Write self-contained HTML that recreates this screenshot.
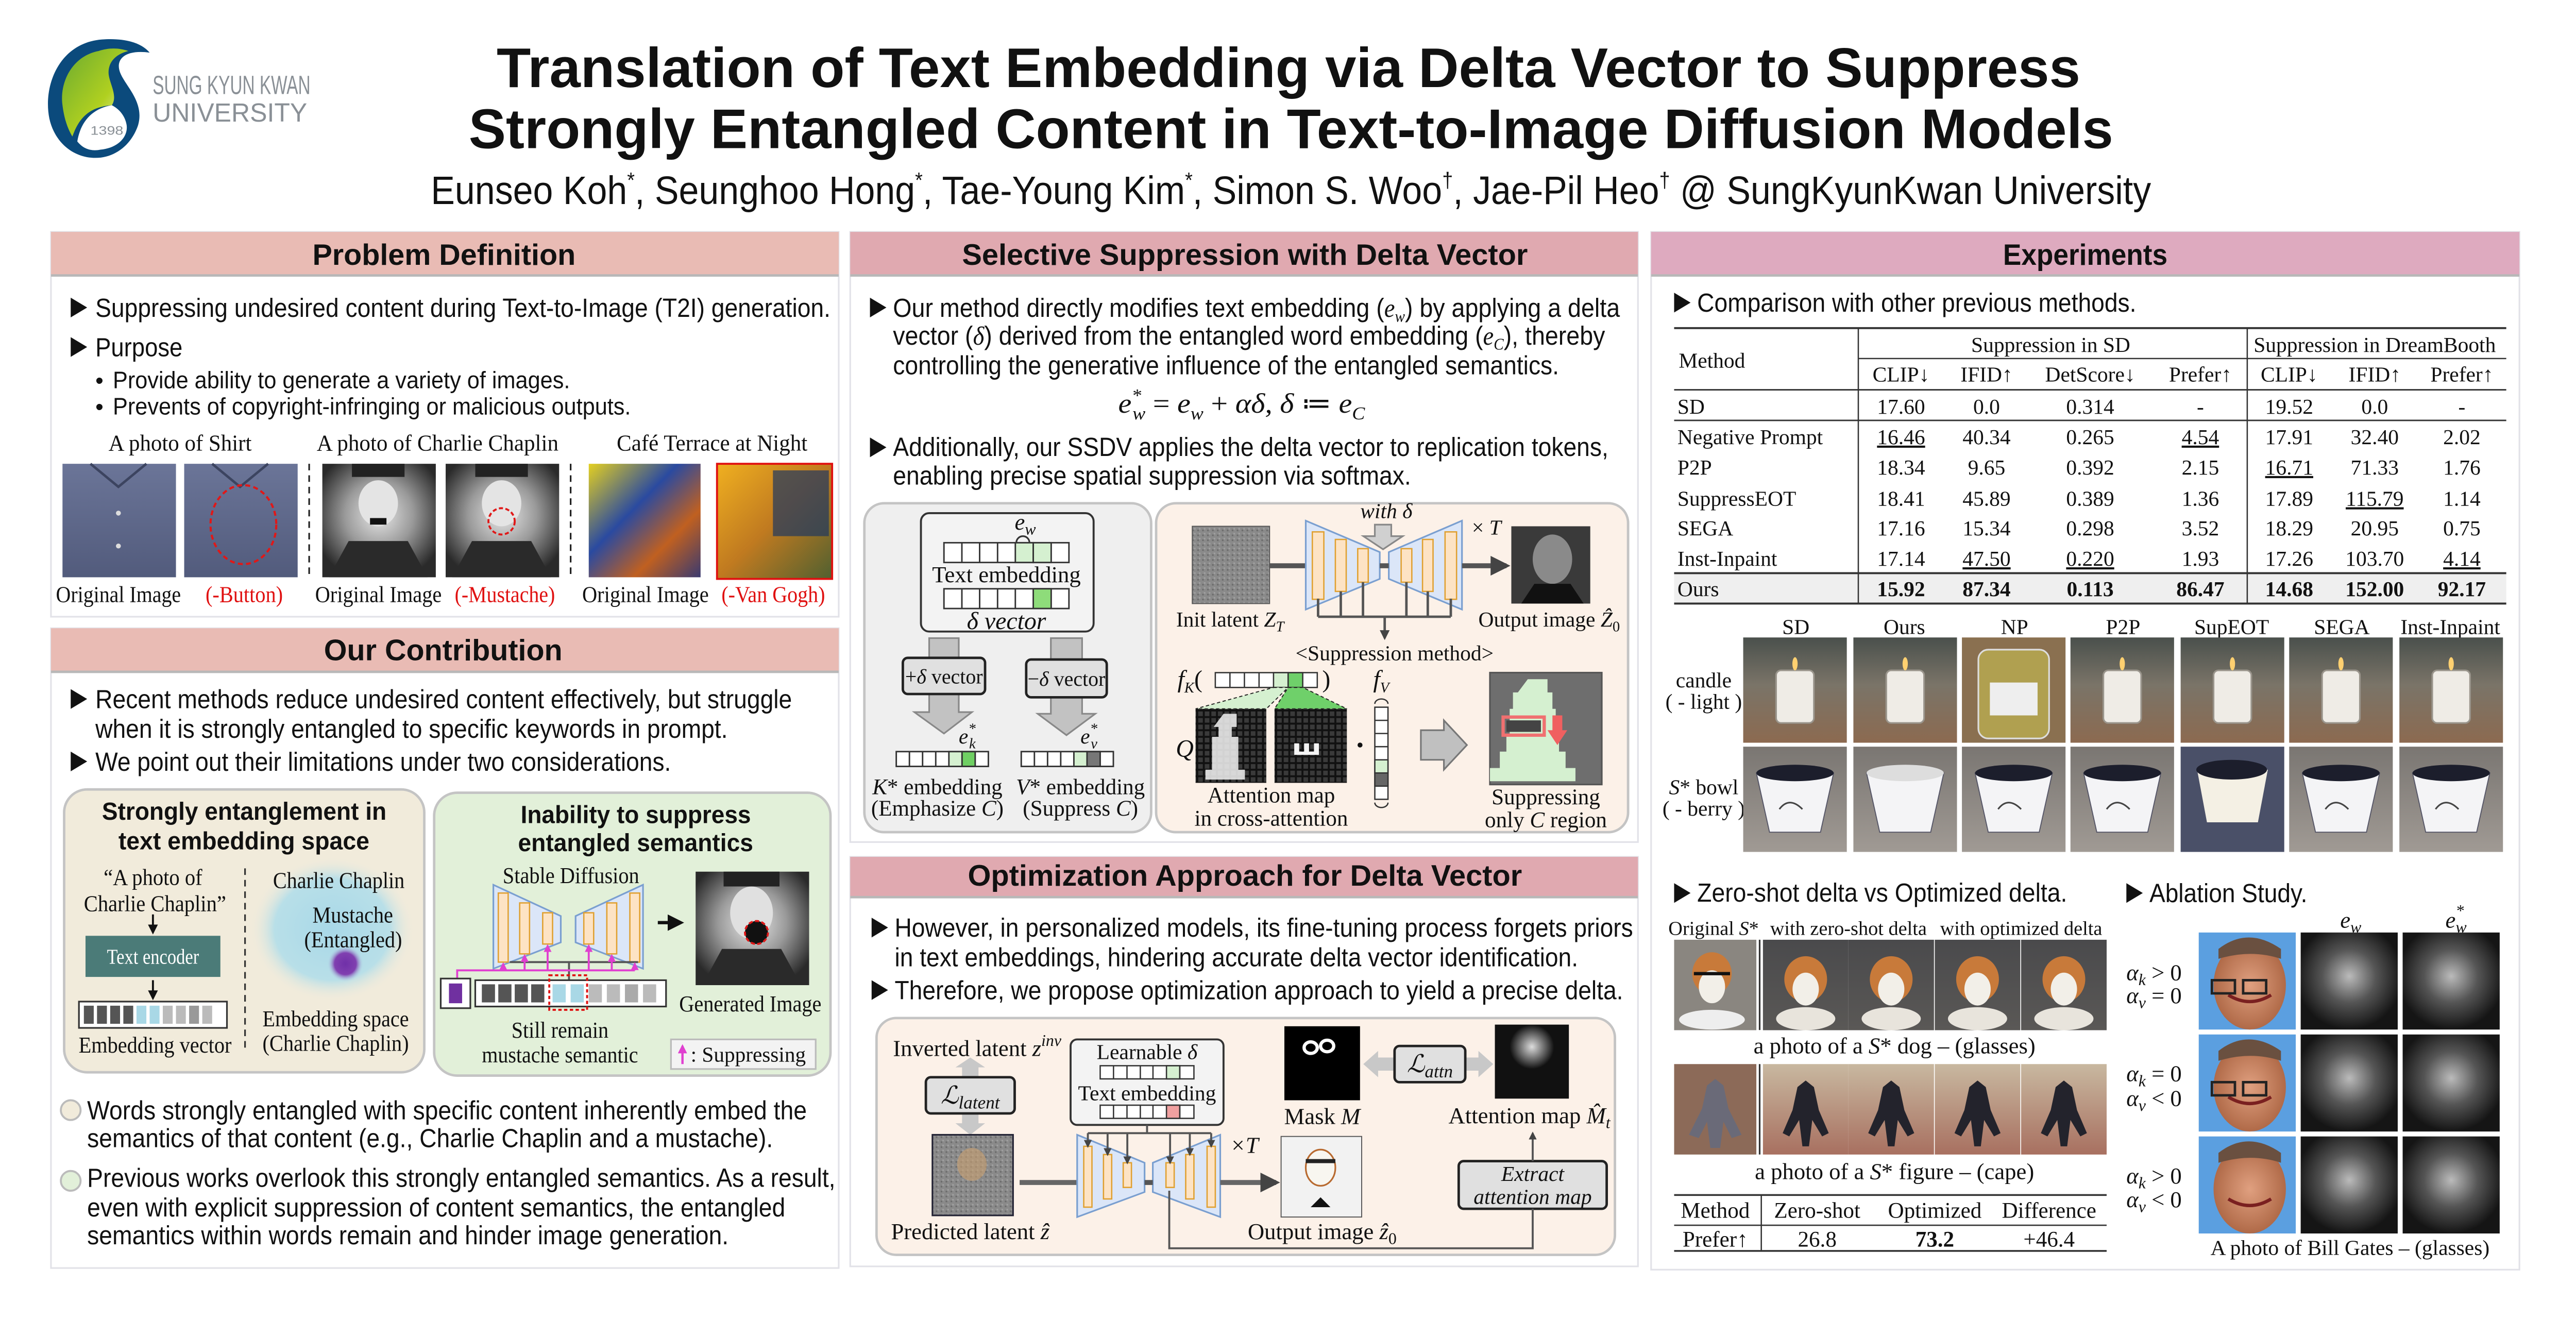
<!DOCTYPE html>
<html><head><meta charset="utf-8"><style>
html,body{margin:0;padding:0;background:#fff}
svg{display:block}
.s{font-family:"Liberation Sans",sans-serif;fill:#111}
.r{font-family:"Liberation Serif",serif;fill:#111}
.i{font-style:italic}
.b{font-weight:bold}
</style></head><body>
<svg width="5120" height="2560" viewBox="0 0 1604 802" preserveAspectRatio="none" xmlns="http://www.w3.org/2000/svg">
<defs>
<marker id="ah" viewBox="0 0 10 10" refX="8" refY="5" markerWidth="4" markerHeight="4" orient="auto"><path d="M0,0L10,5L0,10z" fill="#444"/></marker>
<marker id="ahk" viewBox="0 0 10 10" refX="8" refY="5" markerWidth="5" markerHeight="5" orient="auto"><path d="M0,0L10,5L0,10z" fill="#111"/></marker>
<marker id="ahp" viewBox="0 0 10 10" refX="8" refY="5" markerWidth="4" markerHeight="4" orient="auto"><path d="M0,0L10,5L0,10z" fill="#e040d0"/></marker>
<linearGradient id="shirt" x1="0" y1="0" x2="0" y2="1"><stop offset="0" stop-color="#6b7598"/><stop offset="1" stop-color="#525b7c"/></linearGradient>
<radialGradient id="chap" cx=".5" cy=".45" r=".6"><stop offset="0" stop-color="#e8e8e8"/><stop offset=".5" stop-color="#9a9a9a"/><stop offset="1" stop-color="#2a2a2a"/></radialGradient>
<linearGradient id="cafe" x1="0" y1="0" x2="1" y2="1"><stop offset="0" stop-color="#e4d020"/><stop offset=".4" stop-color="#2a4aa0"/><stop offset=".7" stop-color="#c06020"/><stop offset="1" stop-color="#3a3a70"/></linearGradient>
<linearGradient id="cafe2" x1="0" y1="0" x2="1" y2="1"><stop offset="0" stop-color="#f0b020"/><stop offset=".5" stop-color="#c07a20"/><stop offset="1" stop-color="#506030"/></linearGradient>
<linearGradient id="cand" x1="0" y1="0" x2="0" y2="1"><stop offset="0" stop-color="#4a504c"/><stop offset=".45" stop-color="#7a7468"/><stop offset="1" stop-color="#8c6a50"/></linearGradient>
<linearGradient id="bowlbg" x1="0" y1="0" x2="0" y2="1"><stop offset="0" stop-color="#7a7672"/><stop offset="1" stop-color="#a09a94"/></linearGradient>
<linearGradient id="dogbg" x1="0" y1="0" x2="0" y2="1"><stop offset="0" stop-color="#4a4a4c"/><stop offset="1" stop-color="#5a5856"/></linearGradient>
<linearGradient id="figbg" x1="0" y1="0" x2="0" y2="1"><stop offset="0" stop-color="#c8b8a0"/><stop offset="1" stop-color="#a87060"/></linearGradient>
<radialGradient id="blob" cx=".5" cy=".5" r=".5"><stop offset="0" stop-color="#a8d8e8"/><stop offset=".7" stop-color="#b8dfe8"/><stop offset="1" stop-color="#f1ebdb" stop-opacity="0"/></radialGradient>
<radialGradient id="pdot" cx=".5" cy=".5" r=".5"><stop offset="0" stop-color="#7030a8"/><stop offset=".6" stop-color="#8040b0"/><stop offset="1" stop-color="#b8dfe8" stop-opacity="0"/></radialGradient>
<radialGradient id="attn" cx=".5" cy=".45" r=".55"><stop offset="0" stop-color="#bbb"/><stop offset=".5" stop-color="#555"/><stop offset="1" stop-color="#151515"/></radialGradient>
<radialGradient id="attn2" cx=".5" cy=".3" r=".3"><stop offset="0" stop-color="#ddd"/><stop offset="1" stop-color="#111"/></radialGradient>
<radialGradient id="face" cx=".5" cy=".5" r=".5"><stop offset="0" stop-color="#e0a080"/><stop offset="1" stop-color="#b06a48"/></radialGradient>
<linearGradient id="fan" x1="0" y1="0" x2="1" y2="1"><stop offset="0" stop-color="#6aaa30"/><stop offset=".6" stop-color="#b0d020"/><stop offset="1" stop-color="#f0f8c0"/></linearGradient>
<pattern id="grid" width="4" height="4" patternUnits="userSpaceOnUse"><rect width="4" height="4" fill="#111"/><rect x=".6" y=".6" width="2.8" height="2.8" fill="#3a3a3a"/></pattern>
<pattern id="noise" width="3" height="3" patternUnits="userSpaceOnUse"><rect width="3" height="3" fill="#8a8a8a"/><rect width="1" height="1" fill="#a0a0a0"/><rect x="2" y="1" width="1" height="1" fill="#6c6c6c"/></pattern>
<g id="candle"><rect width="63" height="64" fill="url(#cand)"/><rect x="20" y="20" width="23" height="32" rx="3" fill="#efece6" stroke="#9a958c"/><ellipse cx="31.5" cy="16" rx="1.6" ry="4" fill="#ffd070"/></g>
<g id="bowl"><rect width="63" height="64" fill="url(#bowlbg)"/><path d="M8,16 L55,16 L47,52 L16,52Z" fill="#f4f4f6" stroke="#556" stroke-width=".6"/><ellipse cx="31.5" cy="16" rx="23.5" ry="5" fill="#1c1e2c"/><path d="M22,38 q6,-8 14,0" stroke="#444" fill="none"/></g>
<g id="dog"><rect width="52" height="55" fill="url(#dogbg)"/><ellipse cx="26" cy="24" rx="13" ry="14" fill="#c87a3a"/><ellipse cx="26" cy="30" rx="8" ry="10" fill="#f2efe8"/><ellipse cx="26" cy="48" rx="18" ry="7" fill="#e8e4dc"/></g>
<g id="fig"><rect width="52" height="55" fill="url(#figbg)"/><path d="M26,10 l5,4 l3,14 l6,14 l-4,2 l-6,-10 l-2,16 l-4,0 l-2,-16 l-6,10 l-4,-2 l6,-14 l3,-14z" fill="#23232c"/></g>
<g id="gates"><rect width="59" height="59" fill="#5b9fe0"/><ellipse cx="31" cy="32" rx="22" ry="27" fill="url(#face)"/><path d="M12,10 q18,-14 38,0 l0,6 q-18,-6 -38,0z" fill="#6a5040"/><path d="M18,38 q13,8 26,0" stroke="#7a2020" stroke-width="2" fill="none"/></g>
<g id="am1"><rect width="59" height="59" fill="url(#attn)"/></g>
</defs>

<!-- ===== HEADER ===== -->
<path d="M62,24 C36,26 26,52 30,72 C33,86 44,96 58,96 C70,96 80,88 84,76 C88,62 76,52 73,44 C70,36 76,30 91,32 C86,26 76,23 62,24Z" fill="#0b4a7c"/>
<path d="M60,31 C44,34 36,50 38,64 C39,72 41,78 44,83 C48,72 54,65 68,64 C72,58 66,50 66,44 C66,38 70,33 78,31 C72,29 66,29 60,31Z" fill="url(#fan)"/>
<path d="M68,64 C56,66 49,74 47,86 C51,91 56,92 61,91 C72,90 78,83 77,76 C76,70 72,66 68,64Z" fill="#fff"/>
<text x="55" y="82" font-family="Liberation Sans,sans-serif" font-size="7.5" fill="#8a9096" textLength="20" lengthAdjust="spacingAndGlyphs">1398</text>
<text x="92.8" y="57.2" font-family="Liberation Sans,sans-serif" font-size="16" fill="#8a9096" textLength="96" lengthAdjust="spacingAndGlyphs">SUNG KYUN KWAN</text>
<text x="92.8" y="74" font-family="Liberation Sans,sans-serif" font-size="16" fill="#8a9096" textLength="94" lengthAdjust="spacingAndGlyphs">UNIVERSITY</text>
<text class="s b" x="302" y="53" font-size="34" textLength="963" lengthAdjust="spacingAndGlyphs">Translation of Text Embedding via Delta Vector to Suppress</text>
<text class="s b" x="285" y="90" font-size="34" textLength="1000" lengthAdjust="spacingAndGlyphs">Strongly Entangled Content in Text-to-Image Diffusion Models</text>
<text class="s" x="262" y="124" font-size="24" textLength="1046" lengthAdjust="spacingAndGlyphs">Eunseo Koh<tspan font-size="13" dy="-10">*</tspan><tspan dy="10">, Seunghoo Hong</tspan><tspan font-size="13" dy="-10">*</tspan><tspan dy="10">, Tae-Young Kim</tspan><tspan font-size="13" dy="-10">*</tspan><tspan dy="10">, Simon S. Woo</tspan><tspan font-size="13" dy="-10">†</tspan><tspan dy="10">, Jae-Pil Heo</tspan><tspan font-size="13" dy="-10">†</tspan><tspan dy="10"> @ SungKyunKwan University</tspan></text>

<!-- ===== PANELS ===== -->
<rect x="31" y="141" width="479" height="234" fill="#fff" stroke="#e2e2e8"/>
<rect x="31" y="382" width="479" height="389" fill="#fff" stroke="#e2e2e8"/>
<rect x="517" y="141" width="479" height="371" fill="#fff" stroke="#e2e2e8"/>
<rect x="517" y="521" width="479" height="249" fill="#fff" stroke="#e2e2e8"/>
<rect x="1004" y="141" width="528" height="631" fill="#fff" stroke="#e2e2e8"/>
<g>
<rect x="31" y="141" width="479" height="26" fill="#e9bbb4"/><line x1="31" y1="167.5" x2="510" y2="167.5" stroke="#b8b8b8" stroke-width="1.5"/>
<rect x="31" y="382" width="479" height="26" fill="#e9bbb4"/><line x1="31" y1="408.5" x2="510" y2="408.5" stroke="#b8b8b8" stroke-width="1.5"/>
<rect x="517" y="141" width="479" height="26" fill="#e0a9b0"/><line x1="517" y1="167.5" x2="996" y2="167.5" stroke="#b8b8b8" stroke-width="1.5"/>
<rect x="517" y="521" width="479" height="24" fill="#e0a9b0"/><line x1="517" y1="545.5" x2="996" y2="545.5" stroke="#b8b8b8" stroke-width="1.5"/>
<rect x="1004" y="141" width="528" height="26" fill="#deaabf"/><line x1="1004" y1="167.5" x2="1532" y2="167.5" stroke="#b8b8b8" stroke-width="1.5"/>
</g>
<text class="s b" x="190" y="161" font-size="18" textLength="160" lengthAdjust="spacingAndGlyphs">Problem Definition</text>
<text class="s b" x="197" y="401.5" font-size="18" textLength="145" lengthAdjust="spacingAndGlyphs">Our Contribution</text>
<text class="s b" x="585" y="161" font-size="18" textLength="344" lengthAdjust="spacingAndGlyphs">Selective Suppression with Delta Vector</text>
<text class="s b" x="588.5" y="538.5" font-size="18" textLength="337" lengthAdjust="spacingAndGlyphs">Optimization Approach for Delta Vector</text>
<text class="s b" x="1218" y="161" font-size="18" textLength="100" lengthAdjust="spacingAndGlyphs">Experiments</text>

<!-- ===== COL 1 ===== -->
<g fill="#111">
<path d="M43,181L53,187L43,193Z"/><path d="M43,205L53,211L43,217Z"/>
<path d="M43,419L53,425L43,431Z"/><path d="M43,457L53,463L43,469Z"/>
</g>
<text class="s" x="58" y="192.6" font-size="16" textLength="447" lengthAdjust="spacingAndGlyphs">Suppressing undesired content during Text-to-Image (T2I) generation.</text>
<text class="s" x="58" y="216.6" font-size="16" textLength="53" lengthAdjust="spacingAndGlyphs">Purpose</text>
<text class="s" x="58" y="236" font-size="14">•</text>
<text class="s" x="68.6" y="236" font-size="14.5" textLength="278" lengthAdjust="spacingAndGlyphs">Provide ability to generate a variety of images.</text>
<text class="s" x="58" y="252" font-size="14">•</text>
<text class="s" x="68.6" y="252" font-size="14.5" textLength="315" lengthAdjust="spacingAndGlyphs">Prevents of copyright-infringing or malicious outputs.</text>
<text class="r" x="66" y="274" font-size="14" textLength="87" lengthAdjust="spacingAndGlyphs">A photo of Shirt</text>
<text class="r" x="192.6" y="274" font-size="14" textLength="147" lengthAdjust="spacingAndGlyphs">A photo of Charlie Chaplin</text>
<text class="r" x="375" y="274" font-size="14" textLength="116" lengthAdjust="spacingAndGlyphs">Café Terrace at Night</text>
<rect x="38" y="282" width="69" height="69" fill="url(#shirt)"/>
<path d="M55,282 l17,14 l17,-14" stroke="#3c4460" fill="none" stroke-width="1.5"/><circle cx="72" cy="312" r="1.5" fill="#ddd"/><circle cx="72" cy="332" r="1.5" fill="#ddd"/>
<rect x="112" y="282" width="69" height="69" fill="url(#shirt)"/>
<path d="M129,282 l17,14 l17,-14" stroke="#3c4460" fill="none" stroke-width="1.5"/>
<ellipse cx="148" cy="319" rx="20" ry="24" fill="none" stroke="#e01818" stroke-width="1.3" stroke-dasharray="3 2"/>
<line x1="188" y1="282" x2="188" y2="351" stroke="#222" stroke-dasharray="4 3"/>
<rect x="196" y="282" width="69" height="69" fill="url(#chap)"/>
<ellipse cx="230" cy="306" rx="12" ry="14" fill="#e4e4e4"/><path d="M214,282 h32 v8 h-32z" fill="#222"/><path d="M225,315 h10 v4 h-10z" fill="#111"/><path d="M200,351 l12,-22 h36 l12,22z" fill="#2a2a2a"/>
<rect x="271" y="282" width="69" height="69" fill="url(#chap)"/>
<ellipse cx="305" cy="306" rx="12" ry="14" fill="#e4e4e4"/><path d="M289,282 h32 v8 h-32z" fill="#222"/><path d="M275,351 l12,-22 h36 l12,22z" fill="#2a2a2a"/>
<circle cx="305" cy="317" r="8" fill="none" stroke="#e01818" stroke-width="1.2" stroke-dasharray="2.5 1.5"/>
<line x1="347" y1="282" x2="347" y2="351" stroke="#222" stroke-dasharray="4 3"/>
<rect x="358" y="282" width="68" height="69" fill="url(#cafe)"/>
<rect x="436" y="282" width="70" height="70" fill="url(#cafe2)" stroke="#e01010" stroke-width="1.2"/>
<rect x="470" y="286" width="34" height="40" fill="#203860" opacity=".7"/>
<text class="r" x="34" y="366" font-size="14" textLength="76" lengthAdjust="spacingAndGlyphs">Original Image</text>
<text class="r" x="125" y="366" font-size="14" style="fill:#e01010" textLength="47" lengthAdjust="spacingAndGlyphs">(-Button)</text>
<text class="r" x="191.6" y="366" font-size="14" textLength="77" lengthAdjust="spacingAndGlyphs">Original Image</text>
<text class="r" x="276.5" y="366" font-size="14" style="fill:#e01010" textLength="61" lengthAdjust="spacingAndGlyphs">(-Mustache)</text>
<text class="r" x="354" y="366" font-size="14" textLength="77" lengthAdjust="spacingAndGlyphs">Original Image</text>
<text class="r" x="438.7" y="366" font-size="14" style="fill:#e01010" textLength="63" lengthAdjust="spacingAndGlyphs">(-Van Gogh)</text>

<text class="s" x="58" y="430.6" font-size="16" textLength="423.6" lengthAdjust="spacingAndGlyphs">Recent methods reduce undesired content effectively, but struggle</text>
<text class="s" x="58" y="448.6" font-size="16" textLength="384.5" lengthAdjust="spacingAndGlyphs">when it is strongly entangled to specific keywords in prompt.</text>
<text class="s" x="58" y="468.6" font-size="16" textLength="350" lengthAdjust="spacingAndGlyphs">We point out their limitations under two considerations.</text>

<!-- left box -->
<rect x="39" y="480" width="219" height="172" rx="14" fill="#f1ebdb" stroke="#c4c4c4" stroke-width="1.5"/>
<text class="s b" x="62" y="498.5" font-size="15" textLength="173" lengthAdjust="spacingAndGlyphs">Strongly entanglement in</text>
<text class="s b" x="72" y="516.5" font-size="15" textLength="152.6" lengthAdjust="spacingAndGlyphs">text embedding space</text>
<text class="r" x="63" y="538" font-size="14" textLength="60" lengthAdjust="spacingAndGlyphs">“A photo of</text>
<text class="r" x="51" y="554" font-size="14" textLength="86.5" lengthAdjust="spacingAndGlyphs">Charlie Chaplin”</text>
<line x1="93" y1="556" x2="93" y2="567" stroke="#111" stroke-width="1.2" marker-end="url(#ahk)"/>
<rect x="52" y="569" width="82" height="25" fill="#4b7b78"/>
<text class="r" x="65" y="586" font-size="13" style="fill:#fff" textLength="56" lengthAdjust="spacingAndGlyphs">Text encoder</text>
<line x1="93" y1="596" x2="93" y2="607" stroke="#111" stroke-width="1.2" marker-end="url(#ahk)"/>
<rect x="48" y="609" width="90" height="16" fill="#fff" stroke="#333"/>
<g>
<rect x="51" y="611.5" width="6" height="11" fill="#555"/><rect x="59" y="611.5" width="6" height="11" fill="#555"/><rect x="67" y="611.5" width="6" height="11" fill="#555"/><rect x="75" y="611.5" width="6" height="11" fill="#555"/>
<rect x="83" y="611.5" width="6" height="11" fill="#a9d8e6"/><rect x="91" y="611.5" width="6" height="11" fill="#a9d8e6"/>
<rect x="99" y="611.5" width="6" height="11" fill="#bbb"/><rect x="107" y="611.5" width="6" height="11" fill="#bbb"/><rect x="115" y="611.5" width="6" height="11" fill="#999"/><rect x="123" y="611.5" width="6" height="11" fill="#bbb"/>
</g>
<text class="r" x="47.8" y="640" font-size="14" textLength="93" lengthAdjust="spacingAndGlyphs">Embedding vector</text>
<line x1="149" y1="528" x2="149" y2="640" stroke="#333" stroke-dasharray="4 3"/>
<ellipse cx="202" cy="565" rx="50" ry="44" fill="url(#blob)"/>
<circle cx="210" cy="586" r="11" fill="url(#pdot)"/>
<text class="r" x="166" y="540" font-size="14" textLength="80" lengthAdjust="spacingAndGlyphs">Charlie Chaplin</text>
<text class="r" x="190" y="561" font-size="14" textLength="49" lengthAdjust="spacingAndGlyphs">Mustache</text>
<text class="r" x="185" y="576" font-size="14" textLength="59.5" lengthAdjust="spacingAndGlyphs">(Entangled)</text>
<text class="r" x="159.6" y="624" font-size="14" textLength="89" lengthAdjust="spacingAndGlyphs">Embedding space</text>
<text class="r" x="159.6" y="639" font-size="14" textLength="89" lengthAdjust="spacingAndGlyphs">(Charlie Chaplin)</text>

<!-- right box -->
<rect x="264" y="482" width="241" height="172" rx="14" fill="#e2f0d9" stroke="#c4c4c4" stroke-width="1.5"/>
<text class="s b" x="316.6" y="500.5" font-size="15" textLength="140" lengthAdjust="spacingAndGlyphs">Inability to suppress</text>
<text class="s b" x="315" y="517.5" font-size="15" textLength="143" lengthAdjust="spacingAndGlyphs">entangled semantics</text>
<text class="r" x="305.7" y="537" font-size="14" textLength="83" lengthAdjust="spacingAndGlyphs">Stable Diffusion</text>
<path d="M300,538 L341,557 L341,573 L300,589Z" fill="#dbe6f8" stroke="#7a9fd0"/>
<path d="M350,557 L391,538 L391,589 L350,573Z" fill="#dbe6f8" stroke="#7a9fd0"/>
<g fill="#fde3c4" stroke="#e0a030" stroke-width=".8">
<rect x="303" y="543" width="6" height="42"/><rect x="316" y="549" width="6" height="31"/><rect x="330" y="555" width="6" height="19"/>
<rect x="355" y="555" width="6" height="19"/><rect x="369" y="549" width="6" height="31"/><rect x="383" y="543" width="6" height="42"/>
</g>
<g stroke="#555" stroke-width="1.2"><line x1="310" y1="585" x2="388" y2="585"/><line x1="346" y1="585" x2="346" y2="596"/></g>
<g stroke="#e040d0" stroke-width="1.2" fill="none"><path d="M278,595 L278,590 L386,590"/>
<line x1="306" y1="590" x2="306" y2="586" marker-end="url(#ahp)"/><line x1="319" y1="590" x2="319" y2="581" marker-end="url(#ahp)"/><line x1="333" y1="590" x2="333" y2="575" marker-end="url(#ahp)"/>
<line x1="358" y1="590" x2="358" y2="575" marker-end="url(#ahp)"/><line x1="372" y1="590" x2="372" y2="581" marker-end="url(#ahp)"/><line x1="386" y1="590" x2="386" y2="586" marker-end="url(#ahp)"/></g>
<line x1="400" y1="561" x2="414" y2="561" stroke="#111" stroke-width="2" marker-end="url(#ahk)"/>
<rect x="423" y="530" width="69" height="69" fill="url(#chap)"/>
<ellipse cx="457" cy="555" rx="13" ry="16" fill="#e0e0e0"/><path d="M440,530 h34 v9 h-34z" fill="#222"/><path d="M427,599 l12,-22 h36 l12,22z" fill="#2a2a2a"/>
<circle cx="460" cy="567" r="7" fill="#111" stroke="#e01818" stroke-width="1.2" stroke-dasharray="2.5 1.5"/>
<text class="r" x="413" y="615" font-size="14" textLength="86.5" lengthAdjust="spacingAndGlyphs">Generated Image</text>
<rect x="268" y="595" width="18" height="18" fill="#fff" stroke="#333"/><rect x="273" y="598" width="8" height="12" fill="#7030a0"/>
<rect x="289" y="596" width="116" height="16" fill="#fff" stroke="#333"/>
<g><rect x="293" y="598.5" width="8" height="11" fill="#555"/><rect x="303" y="598.5" width="8" height="11" fill="#555"/><rect x="313" y="598.5" width="8" height="11" fill="#555"/><rect x="323" y="598.5" width="8" height="11" fill="#555"/>
<rect x="336" y="598.5" width="8" height="11" fill="#a9d8e6"/><rect x="347" y="598.5" width="8" height="11" fill="#a9d8e6"/>
<rect x="358" y="598.5" width="8" height="11" fill="#bbb"/><rect x="369" y="598.5" width="8" height="11" fill="#bbb"/><rect x="380" y="598.5" width="8" height="11" fill="#aaa"/><rect x="391" y="598.5" width="8" height="11" fill="#bbb"/></g>
<rect x="334" y="593" width="23" height="21" fill="none" stroke="#e01010" stroke-width="1.2" stroke-dasharray="2 1.5"/>
<text class="r" x="311" y="631" font-size="14" textLength="59" lengthAdjust="spacingAndGlyphs">Still remain</text>
<text class="r" x="293" y="646" font-size="14" textLength="95" lengthAdjust="spacingAndGlyphs">mustache semantic</text>
<rect x="408" y="632" width="88" height="18" fill="#f3f3f3" stroke="#bbb"/>
<line x1="415" y1="647" x2="415" y2="636" stroke="#e040d0" stroke-width="1.4" marker-end="url(#ahp)"/>
<text class="r" x="420" y="645.5" font-size="13" textLength="70" lengthAdjust="spacingAndGlyphs">: Suppressing</text>

<circle cx="43" cy="675" r="6" fill="#f1ebdb" stroke="#bbb" stroke-width="1.2"/>
<circle cx="43" cy="718" r="6" fill="#e2f0d9" stroke="#bbb" stroke-width="1.2"/>
<text class="s" x="53" y="680.6" font-size="16" textLength="437.6" lengthAdjust="spacingAndGlyphs">Words strongly entangled with specific content inherently embed the</text>
<text class="s" x="53" y="697.6" font-size="16" textLength="417" lengthAdjust="spacingAndGlyphs">semantics of that content (e.g., Charlie Chaplin and a mustache).</text>
<text class="s" x="53" y="721.6" font-size="16" textLength="455" lengthAdjust="spacingAndGlyphs">Previous works overlook this strongly entangled semantics. As a result,</text>
<text class="s" x="53" y="739.6" font-size="16" textLength="424.5" lengthAdjust="spacingAndGlyphs">even with explicit suppression of content semantics, the entangled</text>
<text class="s" x="53" y="756.6" font-size="16" textLength="390" lengthAdjust="spacingAndGlyphs">semantics within words remain and hinder image generation.</text>

<!-- ===== COL 2 ===== -->
<g fill="#111"><path d="M529,181L539,187L529,193Z"/><path d="M529,266L539,272L529,278Z"/><path d="M530,558L540,564L530,570Z"/><path d="M530,596L540,602L530,608Z"/></g>
<text class="s" x="543" y="192.6" font-size="16" textLength="442" lengthAdjust="spacingAndGlyphs">Our method directly modifies text embedding (<tspan class="r i">e</tspan><tspan class="r i" font-size="10" dy="3">w</tspan><tspan dy="-3">) by applying a delta</tspan></text>
<text class="s" x="543" y="209.6" font-size="16" textLength="433" lengthAdjust="spacingAndGlyphs">vector (<tspan class="r i">δ</tspan>) derived from the entangled word embedding (<tspan class="r i">e</tspan><tspan class="r i" font-size="10" dy="3">C</tspan><tspan dy="-3">), thereby</tspan></text>
<text class="s" x="543" y="227.6" font-size="16" textLength="405" lengthAdjust="spacingAndGlyphs">controlling the generative influence of the entangled semantics.</text>
<text class="r i" x="680" y="251" font-size="17" textLength="150" lengthAdjust="spacingAndGlyphs">e<tspan font-size="11" dy="-7">*</tspan><tspan font-size="11" dx="-5" dy="11">w</tspan><tspan dy="-4" font-style="normal"> = </tspan>e<tspan font-size="11" dy="4">w</tspan><tspan dy="-4" font-style="normal"> + </tspan>αδ, δ <tspan font-style="normal">≔</tspan> e<tspan font-size="11" dy="4">C</tspan></text>
<text class="s" x="543" y="277.3" font-size="16" textLength="435" lengthAdjust="spacingAndGlyphs">Additionally, our SSDV applies the delta vector to replication tokens,</text>
<text class="s" x="543" y="294.6" font-size="16" textLength="315" lengthAdjust="spacingAndGlyphs">enabling precise spatial suppression via softmax.</text>

<rect x="525.6" y="306" width="174.4" height="200" rx="12" fill="#efefef" stroke="#c4c4c4" stroke-width="1.5"/>
<rect x="703" y="306" width="287" height="200" rx="12" fill="#fcf1e8" stroke="#c4c4c4" stroke-width="1.5"/>
<rect x="560" y="312" width="105" height="72" rx="5" fill="#f3f3f3" stroke="#333" stroke-width="1.2"/>
<text class="r i" x="617" y="322" font-size="14">e<tspan font-size="10" dy="3">w</tspan></text>
<path d="M618,330 a4,4 0 0 1 8,0" fill="none" stroke="#333"/>
<g stroke="#333" stroke-width=".9">
<rect x="574" y="330" width="76" height="12" fill="#fff"/><rect x="617.4" y="330" width="10.9" height="12" fill="#d5f0d0"/><rect x="628.3" y="330" width="10.9" height="12" fill="#d5f0d0"/>
<line x1="584.9" y1="330" x2="584.9" y2="342"/><line x1="595.7" y1="330" x2="595.7" y2="342"/><line x1="606.6" y1="330" x2="606.6" y2="342"/>
<rect x="574" y="358" width="76" height="12" fill="#fff"/><rect x="628.3" y="358" width="10.9" height="12" fill="#8edc7a"/>
<line x1="584.9" y1="358" x2="584.9" y2="370"/><line x1="595.7" y1="358" x2="595.7" y2="370"/><line x1="606.6" y1="358" x2="606.6" y2="370"/><line x1="617.4" y1="358" x2="617.4" y2="370"/>
</g>
<text class="r" x="612" y="354" font-size="14" text-anchor="middle">Text embedding</text>
<text class="r i" x="612" y="382.5" font-size="15" text-anchor="middle">δ vector</text>
<g fill="#c2c2c2" stroke="#888">
<rect x="565" y="388" width="18" height="12"/><path d="M565,422 L583,422 L583,433 L591,433 L574,446 L556,433 L565,433Z"/>
<rect x="639" y="388" width="19" height="13"/><path d="M639,424 L658,424 L658,434 L666,434 L648.5,447 L631,434 L639,434Z"/>
</g>
<rect x="549" y="400" width="50" height="22" rx="3" fill="#e0e0e0" stroke="#222" stroke-width="1.5"/>
<rect x="624" y="401" width="49" height="23" rx="3" fill="#e0e0e0" stroke="#222" stroke-width="1.5"/>
<text class="r" x="574" y="415.5" font-size="12.5" text-anchor="middle">+<tspan font-style="italic">δ</tspan> vector</text>
<text class="r" x="648.5" y="417" font-size="12.5" text-anchor="middle">−<tspan font-style="italic">δ</tspan> vector</text>
<text class="r i" x="583" y="452" font-size="13">e<tspan font-size="9" dy="-6">*</tspan><tspan font-size="9" dx="-4" dy="9">k</tspan></text>
<text class="r i" x="657" y="452" font-size="13">e<tspan font-size="9" dy="-6">*</tspan><tspan font-size="9" dx="-4" dy="9">v</tspan></text>
<g stroke="#333" stroke-width=".9">
<rect x="545" y="457" width="56" height="9" fill="#fff"/><rect x="577" y="457" width="8" height="9" fill="#d5f0d0"/><rect x="585" y="457" width="8" height="9" fill="#6fcf63"/>
<line x1="553" y1="457" x2="553" y2="466"/><line x1="561" y1="457" x2="561" y2="466"/><line x1="569" y1="457" x2="569" y2="466"/>
<rect x="621" y="457" width="56" height="9" fill="#fff"/><rect x="653" y="457" width="8" height="9" fill="#d5f0d0"/><rect x="661" y="457" width="8" height="9" fill="#777"/>
<line x1="629" y1="457" x2="629" y2="466"/><line x1="637" y1="457" x2="637" y2="466"/><line x1="645" y1="457" x2="645" y2="466"/>
</g>
<text class="r" x="570" y="483" font-size="13.5" text-anchor="middle"><tspan font-style="italic">K</tspan>* embedding</text>
<text class="r" x="570" y="496" font-size="13.5" text-anchor="middle">(Emphasize <tspan font-style="italic">C</tspan>)</text>
<text class="r" x="657" y="483" font-size="13.5" text-anchor="middle"><tspan font-style="italic">V</tspan>* embedding</text>
<text class="r" x="657" y="496" font-size="13.5" text-anchor="middle">(Suppress <tspan font-style="italic">C</tspan>)</text>

<rect x="725" y="320" width="47" height="47" fill="url(#noise)" stroke="#555" stroke-width=".6"/>
<text class="r" x="748" y="381" font-size="13" text-anchor="middle">Init latent <tspan font-style="italic">Z</tspan><tspan font-size="9" dy="3" font-style="italic">T</tspan></text>
<line x1="772" y1="344" x2="794" y2="344" stroke="#555" stroke-width="3"/>
<path d="M794,316.6 L839,335.7 L839,352 L794,370.6Z" fill="#dbe6f8" stroke="#7a9fd0"/>
<path d="M844.5,335.7 L889,316.6 L889,370.6 L844.5,352Z" fill="#dbe6f8" stroke="#7a9fd0"/>
<line x1="839" y1="344" x2="844.5" y2="344" stroke="#555" stroke-width="3"/>
<g fill="#fde3c4" stroke="#e0a030" stroke-width=".8">
<rect x="798" y="323.4" width="7" height="41"/><rect x="812" y="328" width="6.6" height="31.6"/><rect x="825.6" y="333.6" width="6.4" height="20.4"/>
<rect x="852" y="333.6" width="6.5" height="20.4"/><rect x="865" y="328" width="6.4" height="31.6"/><rect x="878.7" y="323.4" width="7" height="41"/>
</g>
<g stroke="#555" stroke-width="1.5" fill="none"><path d="M801.5,364 V375 M815.3,359.6 V375 M828.8,354 V375 M855.2,354 V375 M868.2,359.6 V375 M882.2,364 V375 M801.5,375 H882.2"/>
<line x1="842" y1="375" x2="842" y2="388" marker-end="url(#ah)"/></g>
<text class="r i" x="843" y="315" font-size="13" text-anchor="middle">with δ</text>
<path d="M836,319 L846,319 L846,326 L853,326 L841,334 L829,326 L836,326Z" fill="#d0d0d0" stroke="#888"/>
<text class="r" x="895" y="325" font-size="13">× <tspan font-style="italic">T</tspan></text>
<line x1="889" y1="344" x2="916" y2="344" stroke="#555" stroke-width="3" marker-end="url(#ah)"/>
<rect x="919" y="320" width="48" height="47" fill="#3a3a3a"/><ellipse cx="944" cy="340" rx="12" ry="15" fill="#8a8a8a"/><path d="M925,367 l8,-12 h22 l8,12z" fill="#111"/>
<text class="r" x="942" y="381" font-size="13" text-anchor="middle">Output image <tspan font-style="italic">Ẑ</tspan><tspan font-size="9" dy="3">0</tspan></text>
<text class="r" x="848" y="401.5" font-size="13" text-anchor="middle">&lt;Suppression method&gt;</text>
<text class="r i" x="716" y="418" font-size="15">f<tspan font-size="9" dy="3">K</tspan><tspan dy="-3" font-style="normal">(</tspan></text>
<text class="r" x="804" y="418" font-size="15">)</text>
<g stroke="#333" stroke-width=".8">
<rect x="739" y="409" width="62" height="9" fill="#fff"/><rect x="774.4" y="409" width="8.86" height="9" fill="#d5f0d0"/><rect x="783.3" y="409" width="8.86" height="9" fill="#6fd06a"/>
<line x1="747.9" y1="409" x2="747.9" y2="418"/><line x1="756.7" y1="409" x2="756.7" y2="418"/><line x1="765.6" y1="409" x2="765.6" y2="418"/>
</g>
<path d="M774.4,418 L783.3,418 L770,431 L727,431Z" fill="#d5f0d0" stroke="#222" stroke-width=".6" stroke-dasharray="2 1.5"/>
<path d="M783.3,418 L792.2,418 L819,431 L775,431Z" fill="#6fd06a" stroke="#222" stroke-width=".6" stroke-dasharray="2 1.5"/>
<rect x="727" y="431" width="43" height="45" fill="url(#grid)"/>
<path d="M744,434 h8 v8 h-3 v6 h4 v20 h4 v6 h-24 v-6 h4 v-20 h4 v-6 h-3z" fill="#f4f4f4" opacity=".85"/>
<rect x="775" y="431" width="44" height="45" fill="url(#grid)"/>
<path d="M787,452 h3 v5 h3 v-5 h3 v5 h3 v-5 h3 v7 h-15z" fill="#f4f4f4"/>
<text class="r i" x="715" y="460" font-size="15">Q</text>
<text class="r" x="773" y="488" font-size="13.5" text-anchor="middle">Attention map</text>
<text class="r" x="773" y="502" font-size="13.5" text-anchor="middle">in cross-attention</text>
<text class="r i" x="835" y="418" font-size="15">f<tspan font-size="9" dy="3">V</tspan></text>
<g stroke="#333" stroke-width=".8">
<rect x="836" y="430" width="8" height="56" fill="#fff"/><rect x="836" y="462" width="8" height="8" fill="#d5f0d0"/><rect x="836" y="470" width="8" height="8" fill="#666"/>
<line x1="836" y1="438" x2="844" y2="438"/><line x1="836" y1="446" x2="844" y2="446"/><line x1="836" y1="454" x2="844" y2="454"/>
</g>
<path d="M836,428 a4,3 0 0 1 8,0 M836,488 a4,3 0 0 0 8,0" fill="none" stroke="#333" stroke-width=".8"/>
<circle cx="827" cy="453" r="1.5" fill="#111"/>
<path d="M864,444 L878,444 L878,438 L892,453 L878,468 L878,462 L864,462Z" fill="#c0c0c0" stroke="#777"/>
<rect x="906" y="409" width="68" height="68" fill="#6e6e6e" stroke="#555"/>
<path d="M929,413 h12 v8 h3 v10 h2 v16 h2 v10 h4 v10 h6 v8 h-52 v-8 h6 v-10 h4 v-10 h2 v-16 h2 v-10 h3z" fill="#d5f0d0"/>
<rect x="914" y="436" width="25" height="11" fill="none" stroke="#f07070" stroke-width="2"/>
<path d="M916,438 h21 v7 h-21z M920,438 v4 M925,438 v4 M930,438 v4" fill="#444"/>
<path d="M944,435 h6 v9 h3 l-6,9 l-6,-9 h3z" fill="#f06060"/>
<text class="r" x="940" y="489" font-size="13.5" text-anchor="middle">Suppressing</text>
<text class="r" x="940" y="503" font-size="13.5" text-anchor="middle">only <tspan font-style="italic">C</tspan> region</text>

<!-- opt section -->
<text class="s" x="544" y="569.6" font-size="16" textLength="449" lengthAdjust="spacingAndGlyphs">However, in personalized models, its fine-tuning process forgets priors</text>
<text class="s" x="544" y="587.6" font-size="16" textLength="415.6" lengthAdjust="spacingAndGlyphs">in text embeddings, hindering accurate delta vector identification.</text>
<text class="s" x="544" y="607.6" font-size="16" textLength="443" lengthAdjust="spacingAndGlyphs">Therefore, we propose optimization approach to yield a precise delta.</text>
<rect x="533" y="619" width="449" height="144" rx="12" fill="#fcf1e8" stroke="#c4c4c4" stroke-width="1.5"/>
<text class="r" x="543" y="642" font-size="14">Inverted latent <tspan font-style="italic">z</tspan><tspan font-size="10" dy="-6" font-style="italic">inv</tspan></text>
<g fill="#c8c8c8"><path d="M585,655 v-6 h-4 l9,-6 l9,6 h-4 v6z"/><path d="M585,677 v6 h-4 l9,7 l9,-7 h-4 v-6z"/></g>
<rect x="563" y="655" width="54" height="22" rx="3" fill="#e0e0e0" stroke="#222" stroke-width="1.5"/>
<text class="r i" x="590" y="671" font-size="15" text-anchor="middle">ℒ<tspan font-size="11" dy="3">latent</tspan></text>
<rect x="567" y="690" width="49" height="49" fill="url(#noise)" stroke="#223"/>
<ellipse cx="591" cy="708" rx="9" ry="10" fill="#c9a070" opacity=".6"/>
<text class="r" x="590" y="753.5" font-size="14" text-anchor="middle">Predicted latent <tspan font-style="italic">ẑ</tspan></text>
<line x1="620" y1="719" x2="655" y2="719" stroke="#666" stroke-width="3"/>
<rect x="651" y="632" width="93" height="52" rx="4" fill="#f3f3f3" stroke="#333" stroke-width="1.2"/>
<text class="r" x="697.5" y="644" font-size="13" text-anchor="middle">Learnable <tspan font-style="italic">δ</tspan></text>
<text class="r" x="697.5" y="669" font-size="13" text-anchor="middle">Text embedding</text>
<g stroke="#333" stroke-width=".8">
<rect x="669" y="648" width="57" height="8" fill="#fff"/><rect x="709.3" y="648" width="8.1" height="8" fill="#d5f0d0"/>
<line x1="677.1" y1="648" x2="677.1" y2="656"/><line x1="685.3" y1="648" x2="685.3" y2="656"/><line x1="693.4" y1="648" x2="693.4" y2="656"/><line x1="701.1" y1="648" x2="701.1" y2="656"/><line x1="717.4" y1="648" x2="717.4" y2="656"/>
<rect x="669" y="672" width="57" height="8" fill="#fff"/><rect x="709.3" y="672" width="8.1" height="8" fill="#f0a0a0"/>
<line x1="677.1" y1="672" x2="677.1" y2="680"/><line x1="685.3" y1="672" x2="685.3" y2="680"/><line x1="693.4" y1="672" x2="693.4" y2="680"/><line x1="701.1" y1="672" x2="701.1" y2="680"/><line x1="717.4" y1="672" x2="717.4" y2="680"/>
</g>
<path d="M655,690 L696,707 L696,724.8 L655,740Z" fill="#dbe6f8" stroke="#7a9fd0"/>
<path d="M701,707 L742,690 L742,740 L701,724.8Z" fill="#dbe6f8" stroke="#7a9fd0"/>
<g fill="#fde3c4" stroke="#e0a030" stroke-width=".8">
<rect x="659" y="697" width="5" height="37"/><rect x="671" y="702" width="5" height="27"/><rect x="683" y="707" width="5" height="15"/>
<rect x="709" y="707" width="5" height="15"/><rect x="721" y="702" width="5" height="27"/><rect x="734" y="697" width="5" height="37"/>
</g>
<g stroke="#555" stroke-width="1.2" fill="none"><path d="M697.5,684 V689 M661.5,689 H736.5"/>
<line x1="661.5" y1="689" x2="661.5" y2="697" marker-end="url(#ah)"/><line x1="673.5" y1="689" x2="673.5" y2="702" marker-end="url(#ah)"/><line x1="685.5" y1="689" x2="685.5" y2="707" marker-end="url(#ah)"/>
<line x1="711.5" y1="689" x2="711.5" y2="707" marker-end="url(#ah)"/><line x1="723.5" y1="689" x2="723.5" y2="702" marker-end="url(#ah)"/><line x1="736.5" y1="689" x2="736.5" y2="697" marker-end="url(#ah)"/></g>
<line x1="696" y1="719" x2="701" y2="719" stroke="#555" stroke-width="3"/>
<text class="r i" x="748" y="701" font-size="14">×T</text>
<line x1="742" y1="719" x2="776" y2="719" stroke="#666" stroke-width="3" marker-end="url(#ah)"/>
<rect x="779" y="691" width="49" height="49" fill="#f2f2f2" stroke="#555" stroke-width=".6"/>
<ellipse cx="803" cy="710" rx="9" ry="11" fill="#f8f6f0" stroke="#b86a30"/><path d="M794,706 h18" stroke="#222" stroke-width="2.5"/><path d="M797,734 l6,-6 l6,6z" fill="#111"/>
<text class="r" x="804" y="753.5" font-size="14" text-anchor="middle">Output image <tspan font-style="italic">ẑ</tspan><tspan font-size="10" dy="3">0</tspan></text>
<rect x="781" y="624" width="46" height="45" fill="#000"/>
<g fill="none" stroke="#fff" stroke-width="2"><ellipse cx="797" cy="637" rx="4" ry="3.5"/><ellipse cx="807" cy="636" rx="4" ry="3.5"/></g>
<text class="r" x="804" y="683.5" font-size="14" text-anchor="middle">Mask <tspan font-style="italic">M</tspan></text>
<g fill="#c8c8c8"><path d="M848,643 h-10 v-4 l-9,8 l9,8 v-4 h10z"/><path d="M891,643 h8 v-4 l9,8 l-9,8 v-4 h-8z"/></g>
<rect x="848" y="636" width="43" height="22" rx="3" fill="#e0e0e0" stroke="#222" stroke-width="1.5"/>
<text class="r i" x="869.5" y="652" font-size="15" text-anchor="middle">ℒ<tspan font-size="11" dy="3">attn</tspan></text>
<rect x="909" y="623" width="45" height="45" fill="url(#attn2)"/>
<text class="r" x="930" y="683" font-size="14" text-anchor="middle">Attention map <tspan font-style="italic">M̂</tspan><tspan font-size="10" dy="3" font-style="italic">t</tspan></text>
<rect x="887" y="706" width="90" height="29" rx="3" fill="#e0e0e0" stroke="#222" stroke-width="1.5"/>
<text class="r i" x="932" y="718" font-size="13" text-anchor="middle">Extract</text>
<text class="r i" x="932" y="732" font-size="13" text-anchor="middle">attention map</text>
<line x1="932" y1="706" x2="932" y2="689" stroke="#555" stroke-width="1.2" marker-end="url(#ah)"/>
<path d="M711,724 V759 H932 V735" fill="none" stroke="#555" stroke-width="1.2"/>

<!-- ===== COL 3 ===== -->
<g fill="#111"><path d="M1018,178L1028,184L1018,190Z"/><path d="M1018,537L1028,543L1018,549Z"/><path d="M1293,537L1303,543L1293,549Z"/></g>
<text class="s" x="1032" y="189.6" font-size="16" textLength="267" lengthAdjust="spacingAndGlyphs">Comparison with other previous methods.</text>
<rect x="1018" y="348.5" width="506" height="18.5" fill="#efefef"/>
<g stroke="#333"><line x1="1018" y1="199.5" x2="1524" y2="199.5" stroke-width="1.2"/><line x1="1130" y1="218" x2="1524" y2="218" stroke-width=".8"/>
<line x1="1018" y1="237" x2="1524" y2="237" stroke-width=".9"/><line x1="1018" y1="255.6" x2="1524" y2="255.6" stroke-width=".9"/><line x1="1018" y1="348.5" x2="1524" y2="348.5" stroke-width="1.2"/><line x1="1018" y1="367" x2="1524" y2="367" stroke-width="1.2"/>
<line x1="1130" y1="199.5" x2="1130" y2="367" stroke-width=".8"/><line x1="1366.5" y1="199.5" x2="1366.5" y2="367" stroke-width=".8"/></g>
<g font-size="13" text-anchor="middle" font-family="Liberation Serif,serif" fill="#111">
<text x="1247" y="214">Suppression in SD</text><text x="1444" y="214">Suppression in DreamBooth</text>
<text x="1041" y="223.5">Method</text>
<text x="1156" y="232">CLIP↓</text><text x="1208" y="232">IFID↑</text><text x="1271" y="232">DetScore↓</text><text x="1338" y="232">Prefer↑</text><text x="1392" y="232">CLIP↓</text><text x="1444" y="232">IFID↑</text><text x="1497" y="232">Prefer↑</text>
</g>
<g font-size="13" font-family="Liberation Serif,serif" fill="#111">
<text x="1020" y="251.5">SD</text><text x="1020" y="270">Negative Prompt</text><text x="1020" y="288.5">P2P</text><text x="1020" y="307.5">SuppressEOT</text><text x="1020" y="325.5">SEGA</text><text x="1020" y="344">Inst-Inpaint</text><text x="1020" y="362.5">Ours</text>
</g>
<g font-size="13" font-family="Liberation Serif,serif" fill="#111" text-anchor="middle">
<text x="1156" y="251.5">17.60</text><text x="1208" y="251.5">0.0</text><text x="1271" y="251.5">0.314</text><text x="1338" y="251.5">-</text><text x="1392" y="251.5">19.52</text><text x="1444" y="251.5">0.0</text><text x="1497" y="251.5">-</text>
<text x="1156" y="270" text-decoration="underline">16.46</text><text x="1208" y="270">40.34</text><text x="1271" y="270">0.265</text><text x="1338" y="270" text-decoration="underline">4.54</text><text x="1392" y="270">17.91</text><text x="1444" y="270">32.40</text><text x="1497" y="270">2.02</text>
<text x="1156" y="288.5">18.34</text><text x="1208" y="288.5">9.65</text><text x="1271" y="288.5">0.392</text><text x="1338" y="288.5">2.15</text><text x="1392" y="288.5" text-decoration="underline">16.71</text><text x="1444" y="288.5">71.33</text><text x="1497" y="288.5">1.76</text>
<text x="1156" y="307.5">18.41</text><text x="1208" y="307.5">45.89</text><text x="1271" y="307.5">0.389</text><text x="1338" y="307.5">1.36</text><text x="1392" y="307.5">17.89</text><text x="1444" y="307.5" text-decoration="underline">115.79</text><text x="1497" y="307.5">1.14</text>
<text x="1156" y="325.5">17.16</text><text x="1208" y="325.5">15.34</text><text x="1271" y="325.5">0.298</text><text x="1338" y="325.5">3.52</text><text x="1392" y="325.5">18.29</text><text x="1444" y="325.5">20.95</text><text x="1497" y="325.5">0.75</text>
<text x="1156" y="344">17.14</text><text x="1208" y="344" text-decoration="underline">47.50</text><text x="1271" y="344" text-decoration="underline">0.220</text><text x="1338" y="344">1.93</text><text x="1392" y="344">17.26</text><text x="1444" y="344">103.70</text><text x="1497" y="344" text-decoration="underline">4.14</text>
<g font-weight="bold"><text x="1156" y="362.5">15.92</text><text x="1208" y="362.5">87.34</text><text x="1271" y="362.5">0.113</text><text x="1338" y="362.5">86.47</text><text x="1392" y="362.5">14.68</text><text x="1444" y="362.5">152.00</text><text x="1497" y="362.5">92.17</text></g>
</g>
<g font-size="13" font-family="Liberation Serif,serif" fill="#111" text-anchor="middle">
<text x="1092" y="385.5">SD</text><text x="1158" y="385.5">Ours</text><text x="1225" y="385.5">NP</text><text x="1291" y="385.5">P2P</text><text x="1357" y="385.5">SupEOT</text><text x="1424" y="385.5">SEGA</text><text x="1490" y="385.5">Inst-Inpaint</text>
<text x="1036" y="418">candle</text><text x="1036" y="431">( - light )</text>
<text x="1036" y="483"><tspan font-style="italic">S</tspan>* bowl</text><text x="1036" y="496">( - berry )</text>
</g>
<use href="#candle" x="1060" y="387.6"/><use href="#candle" x="1127" y="387.6"/>
<g><rect x="1193" y="387.6" width="63" height="64" fill="#8a7050"/><rect x="1203" y="395" width="43" height="54" rx="6" fill="#b0a050" stroke="#ddd"/><rect x="1210" y="415" width="29" height="20" fill="#eee"/></g>
<use href="#candle" x="1259" y="387.6"/><use href="#candle" x="1326" y="387.6"/><use href="#candle" x="1392" y="387.6"/><use href="#candle" x="1459" y="387.6"/>
<use href="#bowl" x="1060" y="454"/>
<g><rect x="1127" y="454" width="63" height="64" fill="url(#bowlbg)"/><path d="M1135,470 L1182,470 L1174,506 L1143,506Z" fill="#f4f4f6" stroke="#556" stroke-width=".6"/><ellipse cx="1158.5" cy="470" rx="23.5" ry="5" fill="#ddd"/></g>
<use href="#bowl" x="1193" y="454"/><use href="#bowl" x="1259" y="454"/>
<g><rect x="1326" y="454" width="63" height="64" fill="#4a5068"/><path d="M1336,468 L1379,468 L1373,500 L1342,500Z" fill="#f4f0e4"/><ellipse cx="1357" cy="468" rx="21.5" ry="6" fill="#1c1e2c"/></g>
<use href="#bowl" x="1392" y="454"/><use href="#bowl" x="1459" y="454"/>

<text class="s" x="1032" y="548.2" font-size="16" textLength="225" lengthAdjust="spacingAndGlyphs">Zero-shot delta vs Optimized delta.</text>
<text class="s" x="1307" y="548.6" font-size="16" textLength="96" lengthAdjust="spacingAndGlyphs">Ablation Study.</text>
<g font-size="12" font-family="Liberation Serif,serif" fill="#111" text-anchor="middle">
<text x="1042" y="568.5">Original <tspan font-style="italic">S</tspan>*</text><text x="1124" y="568.5">with zero-shot delta</text><text x="1229" y="568.5">with optimized delta</text>
</g>
<g><rect x="1018" y="571.4" width="50" height="55" fill="#8a8680"/><ellipse cx="1041" cy="592" rx="12" ry="13" fill="#c87a3a"/><ellipse cx="1041" cy="600" rx="8" ry="10" fill="#f2efe8"/><path d="M1030,592 h22" stroke="#111" stroke-width="2"/><ellipse cx="1041" cy="620" rx="20" ry="6" fill="#eee"/></g>
<line x1="1070" y1="571.4" x2="1070" y2="626.3" stroke="#333"/>
<use href="#dog" x="1072" y="571.4"/><use href="#dog" x="1124" y="571.4"/><use href="#dog" x="1176.5" y="571.4"/><use href="#dog" x="1229" y="571.4"/>
<text x="1152" y="640.5" font-size="14" font-family="Liberation Serif,serif" fill="#111" text-anchor="middle">a photo of a <tspan font-style="italic">S</tspan>* dog – (glasses)</text>
<g><rect x="1018" y="647" width="50" height="55" fill="#8c6a58"/><path d="M1043,656 l5,4 l3,14 l8,16 l-6,2 l-5,-10 l-2,16 l-6,0 l-2,-16 l-5,10 l-6,-2 l8,-16 l3,-14z" fill="#6a6a78"/></g>
<line x1="1070" y1="647" x2="1070" y2="702" stroke="#333"/>
<use href="#fig" x="1072" y="647"/><use href="#fig" x="1124" y="647"/><use href="#fig" x="1176.5" y="647"/><use href="#fig" x="1229" y="647"/>
<text x="1152" y="717" font-size="14" font-family="Liberation Serif,serif" fill="#111" text-anchor="middle">a photo of a <tspan font-style="italic">S</tspan>* figure – (cape)</text>
<g stroke="#333"><line x1="1018" y1="726.6" x2="1281" y2="726.6" stroke-width="1.1"/><line x1="1018" y1="745" x2="1281" y2="745" stroke-width=".8"/><line x1="1018" y1="760.6" x2="1281" y2="760.6" stroke-width="1.1"/><line x1="1071" y1="726.6" x2="1071" y2="760.6" stroke-width=".8"/></g>
<g font-size="13.5" font-family="Liberation Serif,serif" fill="#111" text-anchor="middle">
<text x="1043" y="740.5">Method</text><text x="1105" y="740.5">Zero-shot</text><text x="1176.5" y="740.5">Optimized</text><text x="1246" y="740.5">Difference</text>
<text x="1043" y="758">Prefer↑</text><text x="1105" y="758">26.8</text><text x="1176.5" y="758" font-weight="bold">73.2</text><text x="1246" y="758">+46.4</text>
</g>
<text class="r i" x="1423" y="564" font-size="14">e<tspan font-size="10" dy="3">w</tspan></text>
<text class="r i" x="1487" y="564" font-size="14">e<tspan font-size="10" dy="-7">*</tspan><tspan font-size="10" dx="-5" dy="10">w</tspan></text>
<use href="#gates" x="1337" y="567"/><use href="#am1" x="1399" y="567"/><use href="#am1" x="1461" y="567"/>
<use href="#gates" x="1337" y="629"/><use href="#am1" x="1399" y="629"/><use href="#am1" x="1461" y="629"/>
<use href="#gates" x="1337" y="691"/><use href="#am1" x="1399" y="691"/><use href="#am1" x="1461" y="691"/>
<g fill="none" stroke="#222" stroke-width="1.5"><rect x="1345" y="596" width="14" height="8"/><rect x="1364" y="596" width="14" height="8"/><rect x="1345" y="658" width="14" height="8"/><rect x="1364" y="658" width="14" height="8"/></g>
<g font-size="14" font-family="Liberation Serif,serif" fill="#111">
<text x="1293" y="596"><tspan font-style="italic">α</tspan><tspan font-size="10" dy="3" font-style="italic">k</tspan><tspan dy="-3"> &gt; 0</tspan></text>
<text x="1293" y="610"><tspan font-style="italic">α</tspan><tspan font-size="10" dy="3" font-style="italic">v</tspan><tspan dy="-3"> = 0</tspan></text>
<text x="1293" y="657.5"><tspan font-style="italic">α</tspan><tspan font-size="10" dy="3" font-style="italic">k</tspan><tspan dy="-3"> = 0</tspan></text>
<text x="1293" y="672.5"><tspan font-style="italic">α</tspan><tspan font-size="10" dy="3" font-style="italic">v</tspan><tspan dy="-3"> &lt; 0</tspan></text>
<text x="1293" y="719.6"><tspan font-style="italic">α</tspan><tspan font-size="10" dy="3" font-style="italic">k</tspan><tspan dy="-3"> &gt; 0</tspan></text>
<text x="1293" y="734"><tspan font-style="italic">α</tspan><tspan font-size="10" dy="3" font-style="italic">v</tspan><tspan dy="-3"> &lt; 0</tspan></text>
</g>
<text x="1429" y="763" font-size="13" font-family="Liberation Serif,serif" fill="#111" text-anchor="middle">A photo of Bill Gates – (glasses)</text>
</svg>
</body></html>
